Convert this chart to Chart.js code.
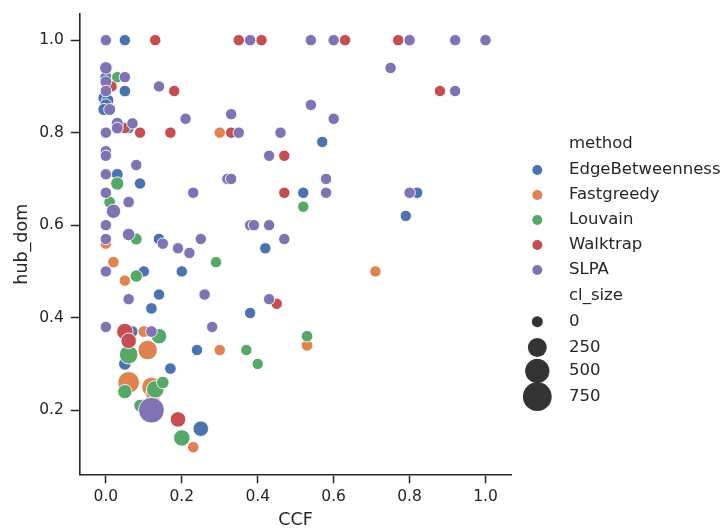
<!DOCTYPE html>
<html>
<head>
<meta charset="utf-8">
<style>
  html, body { margin: 0; padding: 0; background: #ffffff; }
  canvas { display: block; }
</style>
<script src="https://cdn.jsdelivr.net/npm/chart.js@4/dist/chart.umd.min.js"></script>
</head>
<body>
<canvas id="c" width="726" height="531"></canvas>
<script>
// ---- data: [CCF, hub_dom, cl_size] ----
const methods = ['EdgeBetweenness', 'Fastgreedy', 'Louvain', 'Walktrap', 'SLPA'];
const sizeLegend = [0, 250, 500, 750];
const xTicks = [0.0, 0.2, 0.4, 0.6, 0.8, 1.0];
const yTicks = [0.2, 0.4, 0.6, 0.8, 1.0];

const edgeBetweenness = [
  [0.05, 1.00, 10], [0.00, 0.92, 20], [0.05, 0.89, 15], [-0.005, 0.875, 30],
  [0.005, 0.87, 30], [0.00, 0.86, 30], [-0.005, 0.85, 30], [0.06, 0.81, 10],
  [0.57, 0.78, 10], [0.03, 0.71, 20], [0.09, 0.69, 10], [0.52, 0.67, 10],
  [0.82, 0.67, 10], [0.79, 0.62, 10], [0.14, 0.57, 15], [0.42, 0.55, 10],
  [0.10, 0.50, 10], [0.20, 0.50, 10], [0.14, 0.45, 10], [0.12, 0.42, 15],
  [0.38, 0.41, 10], [0.07, 0.37, 10], [0.05, 0.30, 40], [0.24, 0.33, 10],
  [0.17, 0.29, 15], [0.25, 0.16, 130]
];
const fastgreedy = [
  [0.30, 0.80, 10], [0.00, 0.56, 10], [0.02, 0.52, 15], [0.05, 0.48, 10],
  [0.71, 0.50, 10], [0.10, 0.37, 20], [0.11, 0.33, 280], [0.30, 0.33, 10],
  [0.53, 0.34, 15], [0.06, 0.26, 370], [0.12, 0.25, 280], [0.125, 0.235, 120],
  [0.23, 0.12, 15]
];
const louvain = [
  [0.03, 0.92, 10], [0.03, 0.69, 60], [0.01, 0.65, 20], [0.52, 0.64, 10],
  [0.08, 0.57, 25], [0.29, 0.52, 10], [0.08, 0.49, 35], [0.14, 0.36, 130],
  [0.06, 0.32, 240], [0.37, 0.33, 10], [0.40, 0.30, 10], [0.53, 0.36, 15],
  [0.05, 0.24, 90], [0.13, 0.245, 200], [0.15, 0.26, 40], [0.09, 0.21, 40],
  [0.20, 0.14, 160]
];
const walktrap = [
  [0.13, 1.00, 10], [0.35, 1.00, 10], [0.41, 1.00, 10], [0.63, 1.00, 10],
  [0.77, 1.00, 10], [0.015, 0.90, 10], [0.18, 0.89, 10], [0.88, 0.89, 10],
  [0.05, 0.81, 10], [0.09, 0.80, 10], [0.17, 0.80, 10], [0.33, 0.80, 10],
  [0.47, 0.75, 10], [0.47, 0.67, 10], [0.45, 0.43, 10], [0.05, 0.37, 160],
  [0.06, 0.35, 130], [0.19, 0.18, 130]
];
const slpa = [
  [0.00, 1.00, 10], [0.38, 1.00, 10], [0.54, 1.00, 10], [0.60, 1.00, 10],
  [0.80, 1.00, 10], [0.92, 1.00, 10], [1.00, 1.00, 10], [0.00, 0.94, 40],
  [0.75, 0.94, 10], [0.05, 0.92, 10], [0.00, 0.91, 20], [0.00, 0.89, 15],
  [0.14, 0.90, 10], [0.92, 0.89, 10], [0.54, 0.86, 10], [0.01, 0.85, 25],
  [0.33, 0.84, 10], [0.21, 0.83, 10], [0.60, 0.83, 10], [0.03, 0.82, 30],
  [0.07, 0.82, 10], [0.03, 0.81, 20], [0.00, 0.80, 10], [0.35, 0.80, 10],
  [0.46, 0.80, 10], [0.00, 0.76, 10], [0.00, 0.75, 10], [0.43, 0.75, 10],
  [0.08, 0.73, 10], [0.00, 0.71, 10], [0.32, 0.70, 10], [0.33, 0.70, 10],
  [0.58, 0.70, 10], [0.00, 0.67, 10], [0.23, 0.67, 10], [0.58, 0.67, 10],
  [0.80, 0.67, 10], [0.06, 0.65, 15], [0.02, 0.63, 90], [0.00, 0.60, 10],
  [0.38, 0.60, 10], [0.39, 0.60, 10], [0.43, 0.60, 10], [0.06, 0.58, 40],
  [0.00, 0.57, 10], [0.15, 0.56, 10], [0.19, 0.55, 10], [0.22, 0.54, 10],
  [0.25, 0.57, 10], [0.47, 0.57, 10], [0.00, 0.50, 10], [0.06, 0.44, 10],
  [0.26, 0.45, 10], [0.43, 0.44, 10], [0.00, 0.38, 10], [0.28, 0.38, 10],
  [0.12, 0.37, 15], [0.12, 0.20, 580]
];

// ---- styles ----
const seriesData = [edgeBetweenness, fastgreedy, louvain, walktrap, slpa];
const colors = ['#4C72B0', '#DD8452', '#55A868', '#C44E52', '#8172B3'];
const ink = '#262626';
const FONT = '"DejaVu Sans", "Liberation Sans", sans-serif';
function radiusFor(s) { return Math.sqrt(30 + 0.235 * s); }

const datasets = seriesData.map((arr, i) => ({
  label: methods[i],
  data: arr.map(([x, y, s]) => ({ x: x, y: y, s: s })),
  backgroundColor: colors[i],
  borderColor: '#ffffff',
  borderWidth: 0.9,
  pointRadius: ctx => radiusFor(ctx.raw ? ctx.raw.s : 0),
  pointHoverRadius: ctx => radiusFor(ctx.raw ? ctx.raw.s : 0),
  order: seriesData.length - i,
  clip: false
}));

const legendPlugin = {
  id: 'seabornLegend',
  afterDraw(chart) {
    const ctx = chart.ctx;
    ctx.save();
    ctx.font = '16.5px ' + FONT;
    ctx.fillStyle = ink;
    ctx.textAlign = 'left';
    ctx.textBaseline = 'middle';
    const tx = 569, mx = 537.3;
    ctx.fillText('method', tx, 143.5);
    const rows = [170, 195, 220, 245, 270];
    methods.forEach((m, i) => {
      ctx.fillStyle = colors[i];
      ctx.beginPath();
      ctx.arc(mx, rows[i], 5, 0, Math.PI * 2);
      ctx.fill();
      ctx.fillStyle = ink;
      ctx.fillText(m, tx, rows[i]);
    });
    ctx.fillText('cl_size', tx, 295.5);
    const srows = [321.7, 347.5, 371, 396.7];
    sizeLegend.forEach((s, i) => {
      ctx.fillStyle = '#333333';
      ctx.beginPath();
      ctx.arc(mx, srows[i], radiusFor(s), 0, Math.PI * 2);
      ctx.fill();
      ctx.fillStyle = ink;
      ctx.fillText(String(s), tx, srows[i]);
    });
    ctx.restore();
  }
};

new Chart(document.getElementById('c'), {
  type: 'scatter',
  data: { datasets: datasets },
  plugins: [legendPlugin],
  options: {
    responsive: false,
    animation: false,
    devicePixelRatio: 1,
    layout: { padding: { left: 0, right: 214.3, top: 11.7, bottom: 0 } },
    plugins: { legend: { display: false }, tooltip: { enabled: false } },
    scales: {
      x: {
        type: 'linear',
        min: -0.070,
        max: 1.069,
        afterBuildTicks: s => { s.ticks = xTicks.map(v => ({ value: v })); },
        afterFit: s => { s.height = 56.3; s.paddingLeft = 0; s.paddingRight = 0; },
        grid: { display: true, drawOnChartArea: false, drawTicks: true, tickLength: 8.5, tickWidth: 1.5, tickColor: ink },
        border: { display: true, color: ink, width: 1.6 },
        ticks: { color: ink, font: { family: FONT, size: 15.5 }, padding: 4.5, maxRotation: 0,
                 callback: v => Number(v).toFixed(1) },
        title: { display: true, text: 'CCF', color: ink, font: { family: FONT, size: 17.5 },
                 padding: { top: 0, bottom: 0.5 } }
      },
      y: {
        type: 'linear',
        min: 0.0605,
        max: 1.057,
        afterBuildTicks: s => { s.ticks = yTicks.map(v => ({ value: v })); },
        afterFit: s => { s.width = 79.3; s.paddingTop = 0; s.paddingBottom = 0; },
        grid: { display: true, drawOnChartArea: false, drawTicks: true, tickLength: 8.5, tickWidth: 1.5, tickColor: ink },
        border: { display: true, color: ink, width: 1.6 },
        ticks: { color: ink, font: { family: FONT, size: 15.5 }, padding: 7,
                 callback: v => Number(v).toFixed(1) },
        title: { display: true, text: 'hub_dom', color: ink, font: { family: FONT, size: 17.5 },
                 padding: { top: 11.5, bottom: 0 } }
      }
    }
  }
});
</script>
</body>
</html>
